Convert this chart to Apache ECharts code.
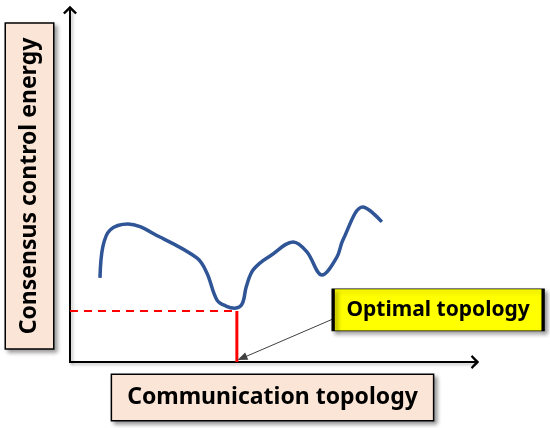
<!DOCTYPE html>
<html>
<head>
<meta charset="utf-8">
<script src="https://cdn.jsdelivr.net/npm/echarts@6/dist/echarts.min.js"></script>
<style>
  html, body { margin: 0; padding: 0; background: #fff; }
  #chartmain { width: 550px; height: 428px; }
</style>
</head>
<body>
<div id="chartmain"></div>
<script>
// curve (arbitrary units, 0..100 on both axes)
var curveX = [7.4, 8.1, 9.9, 14.3, 22.2, 31.4, 33.8, 36.3, 38.5, 40.7, 42.5, 43.5, 44.9, 46.9, 49.4, 55.1, 58.5, 62.2, 65.9, 67.4, 72.3, 77.0];
var curveY = [23.9, 32.7, 37.5, 39.2, 35.5, 29.5, 25.3, 17.6, 15.9, 15.3, 16.5, 21.3, 25.6, 28.1, 30.1, 34.1, 31.3, 24.7, 29.8, 34.7, 44.0, 39.8];

// the optimal point
var optimalX = 41.2;
var optimalY = 14.5;

// annotation: arrow start and label box centre
var noteFrom = [64.9, 12.2];
var noteTo = [42.5, 1.1];
var noteBox = [90.9, 14.8];

var xTitle = 'Communication topology';
var yTitle = 'Consensus control energy';
var noteText = 'Optimal topology';

var curveData = [];
for (var i = 0; i < curveX.length; i++) {
    curveData.push([curveX[i], curveY[i]]);
}

var chevron = 'path://M10,0 L20,10 L17.5,12 L10,5 L2.5,12 L0,10 Z';
var boxShadow = {
    shadowColor: 'rgba(0,0,0,0.35)',
    shadowBlur: 4,
    shadowOffsetX: 3,
    shadowOffsetY: 3
};
var lineShadow = {
    shadowColor: 'rgba(0,0,0,0.25)',
    shadowBlur: 3,
    shadowOffsetX: 2,
    shadowOffsetY: 2
};

var option = {
    animation: false,
    backgroundColor: '#fff',
    grid: { left: 70, right: 75, top: 10, bottom: 66, outerBoundsMode: 'none' },
    xAxis: {
        type: 'value',
        min: 0,
        max: 100,
        splitLine: { show: false },
        axisTick: { show: false },
        axisLabel: { show: false },
        axisLine: {
            symbol: ['none', chevron],
            symbolSize: [14, 9],
            lineStyle: Object.assign({ color: '#000', width: 2 }, lineShadow)
        },
        name: xTitle,
        nameLocation: 'middle',
        nameGap: 13,
        nameTextStyle: Object.assign({
            fontFamily: 'Noto Sans',
            fontWeight: 'bold',
            fontSize: 23,
            lineHeight: 27,
            color: '#000',
            backgroundColor: '#FBE5D6',
            borderColor: '#000',
            borderWidth: 1.5,
            padding: [9, 15, 9, 15]
        }, boxShadow)
    },
    yAxis: {
        type: 'value',
        min: 0,
        max: 100,
        splitLine: { show: false },
        axisTick: { show: false },
        axisLabel: { show: false },
        axisLine: {
            symbol: ['none', chevron],
            symbolSize: [14, 9],
            lineStyle: Object.assign({ color: '#000', width: 2 }, lineShadow)
        },
        name: yTitle,
        nameLocation: 'middle',
        nameRotate: 90,
        nameGap: 17,
        nameTextStyle: Object.assign({
            fontFamily: 'Noto Sans',
            fontWeight: 'bold',
            fontSize: 23,
            lineHeight: 27,
            color: '#000',
            backgroundColor: '#FBE5D6',
            borderColor: '#000',
            borderWidth: 1.5,
            padding: [10, 14, 10, 14]
        }, boxShadow)
    },
    series: [
        {
            name: 'energy',
            type: 'line',
            data: curveData,
            smooth: 0.35,
            showSymbol: false,
            lineStyle: { color: '#2F5597', width: 3.5 },
            z: 5
        },
        {
            name: 'level',
            type: 'line',
            data: [[0, optimalY], [optimalX, optimalY]],
            showSymbol: false,
            lineStyle: { color: '#FF0000', width: 2, type: [8, 6] },
            z: 3
        },
        {
            name: 'optimal',
            type: 'line',
            data: [[optimalX, 0], [optimalX, optimalY]],
            showSymbol: false,
            lineStyle: { color: '#FF0000', width: 3 },
            z: 4,
            markLine: {
                silent: true,
                symbol: ['none', 'triangle'],
                symbolSize: [8, 10],
                label: { show: false },
                lineStyle: { color: '#404040', width: 1, type: 'solid' },
                data: [[{ coord: noteFrom }, { coord: noteTo }]]
            },
            markPoint: {
                silent: true,
                symbol: 'rect',
                symbolSize: [210, 42],
                itemStyle: Object.assign({
                    color: '#FFFF00',
                    borderColor: '#000',
                    borderWidth: 1.5
                }, boxShadow),
                label: {
                    show: true,
                    position: 'inside',
                    formatter: noteText,
                    fontFamily: 'Noto Sans',
                    fontWeight: 'bold',
                    fontSize: 21,
                    color: '#000'
                },
                data: [{ coord: noteBox }]
            }
        }
    ]
};

var myChart = echarts.init(document.getElementById('chartmain'));
myChart.setOption(option);
</script>
</body>
</html>
